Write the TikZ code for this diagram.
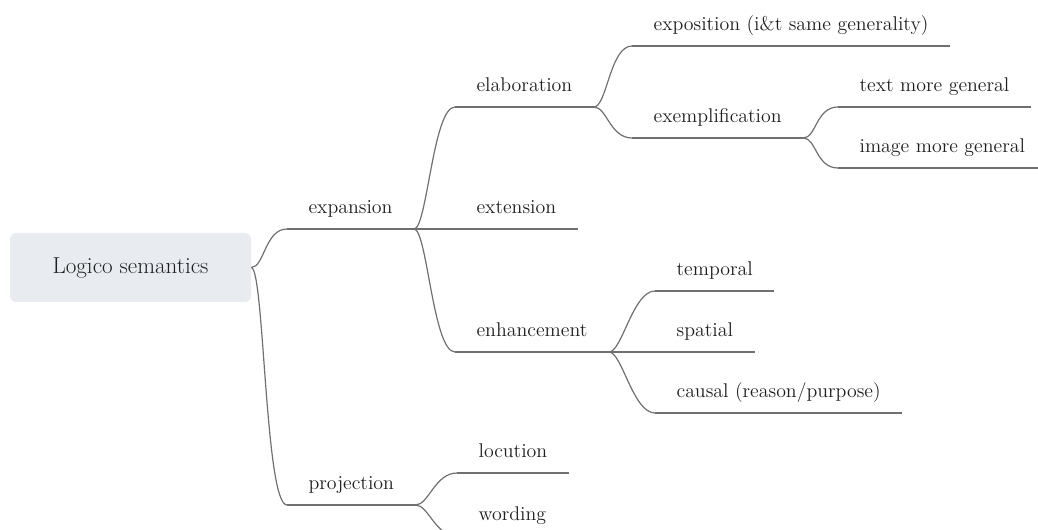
\documentclass[tikz,border=0pt]{standalone}
\usepackage{xcolor}
\definecolor{RootFill}{rgb}{0.91, 0.92, 0.94}
\definecolor{LineGrey}{rgb}{0.44, 0.44, 0.44}
\definecolor{TextDark}{rgb}{0.12, 0.12, 0.12}

\begin{document}
\begin{tikzpicture}[x=0.75pt,y=0.75pt,yscale=-1,xscale=1,
	rootbox/.style={fill=RootFill, rounded corners=4.5pt, minimum width=180.75pt, minimum height=51.75pt, text=TextDark, font=\fontsize{17.3}{20}\selectfont},
	topic/.style={anchor=south west, inner xsep=16pt, inner ysep=11.5pt, text depth=0pt, text=TextDark, font=\fontsize{14.9}{18}\selectfont},
	link/.style={color=LineGrey, line width=0.9pt}]
						\useasboundingbox (0,0) rectangle (1038,530);
						\clip (0,0) rectangle (1038,530);

						% Root Node
						\node[rootbox] (root) at (130.5,267.5) {Logico semantics};

						% Text Node
						\node[topic] (expa) at (287,229) {expansion};
						% Text Node
						\node[topic] (proj) at (287,505) {projection};
						% Text Node
						\node[topic] (elab) at (455,107) {elaboration};
						% Text Node
						\node[topic] (exte) at (455,229) {extension};
						% Text Node
						\node[topic] (enha) at (455,352) {enhancement};
						% Text Node
						\node[topic] (locu) at (457,473) {locution};
						% Text Node
						\node[topic] (word) at (457,536) {wording};
						% Text Node
						\node[topic] (expo) at (632,46) {exposition (i\&t same generality)};
						% Text Node
						\node[topic] (exem) at (632,138) {exemplification};
						% Text Node
						\node[topic] (temp) at (655,291) {temporal};
						% Text Node
						\node[topic] (spat) at (655,352) {spatial};
						% Text Node
						\node[topic] (caus) at (655,413) {causal (reason/purpose)};
						% Text Node
						\node[topic] (txtg) at (838,107) {text more general};
						% Text Node
						\node[topic] (imgg) at (838,168) {image more general};

						%Straight Lines: underlines
						\foreach \n in {expa,proj,elab,exte,enha,locu,word,expo,exem,temp,spat,caus,txtg,imgg}
							\draw[link] (\n.south west) -- (\n.south east);

						%Curves: branches
						\foreach \p/\c in {root.east/expa, root.east/proj, expa.south east/elab, expa.south east/exte, expa.south east/enha, proj.south east/locu, proj.south east/word, elab.south east/expo, elab.south east/exem, enha.south east/temp, enha.south east/spat, enha.south east/caus, exem.south east/txtg, exem.south east/imgg}
							\draw[link] (\p) .. controls +(13,0) and +(-22,0) .. (\c.south west);

					\end{tikzpicture}
\end{document}
